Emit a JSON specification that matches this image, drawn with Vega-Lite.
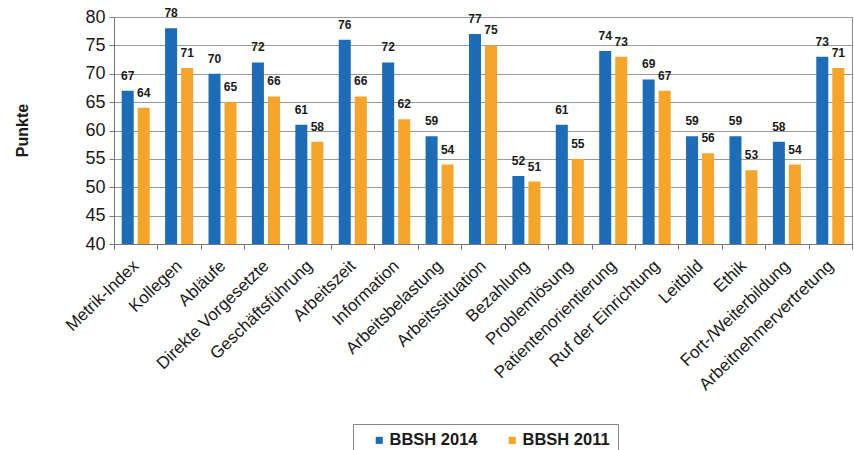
{
  "$schema": "https://vega.github.io/schema/vega-lite/v6.json",
  "width": 738,
  "height": 227,
  "autosize": {"type": "none"},
  "padding": {"left": 114, "top": 17, "right": 2, "bottom": 206},
  "background": "white",
  "config": {
    "font": "Liberation Sans",
    "view": {"stroke": "#8a8a8a", "strokeWidth": 1}
  },
  "data": {
    "values": [
      {"Kategorie": "Metrik-Index", "Serie": "BBSH 2014", "Punkte": 67},
      {"Kategorie": "Metrik-Index", "Serie": "BBSH 2011", "Punkte": 64},
      {"Kategorie": "Kollegen", "Serie": "BBSH 2014", "Punkte": 78},
      {"Kategorie": "Kollegen", "Serie": "BBSH 2011", "Punkte": 71},
      {"Kategorie": "Abläufe", "Serie": "BBSH 2014", "Punkte": 70},
      {"Kategorie": "Abläufe", "Serie": "BBSH 2011", "Punkte": 65},
      {"Kategorie": "Direkte Vorgesetzte", "Serie": "BBSH 2014", "Punkte": 72},
      {"Kategorie": "Direkte Vorgesetzte", "Serie": "BBSH 2011", "Punkte": 66},
      {"Kategorie": "Geschäftsführung", "Serie": "BBSH 2014", "Punkte": 61},
      {"Kategorie": "Geschäftsführung", "Serie": "BBSH 2011", "Punkte": 58},
      {"Kategorie": "Arbeitszeit", "Serie": "BBSH 2014", "Punkte": 76},
      {"Kategorie": "Arbeitszeit", "Serie": "BBSH 2011", "Punkte": 66},
      {"Kategorie": "Information", "Serie": "BBSH 2014", "Punkte": 72},
      {"Kategorie": "Information", "Serie": "BBSH 2011", "Punkte": 62},
      {"Kategorie": "Arbeitsbelastung", "Serie": "BBSH 2014", "Punkte": 59},
      {"Kategorie": "Arbeitsbelastung", "Serie": "BBSH 2011", "Punkte": 54},
      {"Kategorie": "Arbeitssituation", "Serie": "BBSH 2014", "Punkte": 77},
      {"Kategorie": "Arbeitssituation", "Serie": "BBSH 2011", "Punkte": 75},
      {"Kategorie": "Bezahlung", "Serie": "BBSH 2014", "Punkte": 52},
      {"Kategorie": "Bezahlung", "Serie": "BBSH 2011", "Punkte": 51},
      {"Kategorie": "Problemlösung", "Serie": "BBSH 2014", "Punkte": 61},
      {"Kategorie": "Problemlösung", "Serie": "BBSH 2011", "Punkte": 55},
      {"Kategorie": "Patientenorientierung", "Serie": "BBSH 2014", "Punkte": 74},
      {"Kategorie": "Patientenorientierung", "Serie": "BBSH 2011", "Punkte": 73},
      {"Kategorie": "Ruf der Einrichtung", "Serie": "BBSH 2014", "Punkte": 69},
      {"Kategorie": "Ruf der Einrichtung", "Serie": "BBSH 2011", "Punkte": 67},
      {"Kategorie": "Leitbild", "Serie": "BBSH 2014", "Punkte": 59},
      {"Kategorie": "Leitbild", "Serie": "BBSH 2011", "Punkte": 56},
      {"Kategorie": "Ethik", "Serie": "BBSH 2014", "Punkte": 59},
      {"Kategorie": "Ethik", "Serie": "BBSH 2011", "Punkte": 53},
      {"Kategorie": "Fort-/Weiterbildung", "Serie": "BBSH 2014", "Punkte": 58},
      {"Kategorie": "Fort-/Weiterbildung", "Serie": "BBSH 2011", "Punkte": 54},
      {"Kategorie": "Arbeitnehmervertretung", "Serie": "BBSH 2014", "Punkte": 73},
      {"Kategorie": "Arbeitnehmervertretung", "Serie": "BBSH 2011", "Punkte": 71}
    ]
  },
  "encoding": {
    "x": {
      "field": "Kategorie",
      "type": "nominal",
      "sort": null,
      "scale": {"paddingInner": 0, "paddingOuter": 0},
      "axis": {
        "title": null,
        "labelAngle": -44,
        "labelAlign": "right",
        "labelBaseline": "middle",
        "labelFontSize": 17,
        "labelColor": "#1a1a1a",
        "labelPadding": 14,
        "tickBand": "extent",
        "tickSize": 5,
        "tickColor": "#777",
        "domainColor": "#777",
        "labelOverlap": false
      }
    },
    "xOffset": {
      "field": "Serie",
      "type": "nominal",
      "sort": ["BBSH 2014", "BBSH 2011"],
      "scale": {"paddingInner": 0.25, "paddingOuter": 0.48}
    },
    "y": {
      "field": "Punkte",
      "type": "quantitative",
      "scale": {"domain": [40, 80], "zero": false, "nice": false},
      "axis": {
        "title": "Punkte",
        "titleFontSize": 16,
        "titleFontWeight": "bold",
        "titleColor": "#1a1a1a",
        "titleX": -92,
        "titleY": 113,
        "titleAngle": 270,
        "titleAlign": "center",
        "titleBaseline": "middle",
        "values": [40, 45, 50, 55, 60, 65, 70, 75, 80],
        "labelFontSize": 18,
        "labelColor": "#1a1a1a",
        "labelPadding": 4,
        "tickSize": 5,
        "tickColor": "#777",
        "domainColor": "#777",
        "gridColor": "#9a9a9a",
        "gridWidth": 1
      }
    }
  },
  "layer": [
    {
      "mark": {"type": "bar", "clip": true},
      "encoding": {
        "color": {
          "field": "Serie",
          "type": "nominal",
          "sort": ["BBSH 2014", "BBSH 2011"],
          "scale": {"domain": ["BBSH 2014", "BBSH 2011"], "range": ["#1c6cb8", "#f6a52a"]},
          "legend": {
            "title": null,
            "orient": "none",
            "direction": "horizontal",
            "legendX": 239,
            "legendY": 407,
            "symbolType": "square",
            "symbolSize": 50,
            "symbolStrokeWidth": 0,
            "symbolOffset": 10,
            "labelFontSize": 16.5,
            "labelFontWeight": "bold",
            "labelColor": "#1a1a1a",
            "labelOffset": 2,
            "columnPadding": 16,
            "padding": 8,
            "strokeColor": "#888",
            "fillColor": "white"
          }
        }
      }
    },
    {
      "mark": {"type": "text", "baseline": "bottom", "dy": -8, "fontSize": 12, "fontWeight": "bold", "color": "#1a1a1a"},
      "encoding": {
        "text": {"field": "Punkte", "type": "quantitative"}
      }
    }
  ]
}
